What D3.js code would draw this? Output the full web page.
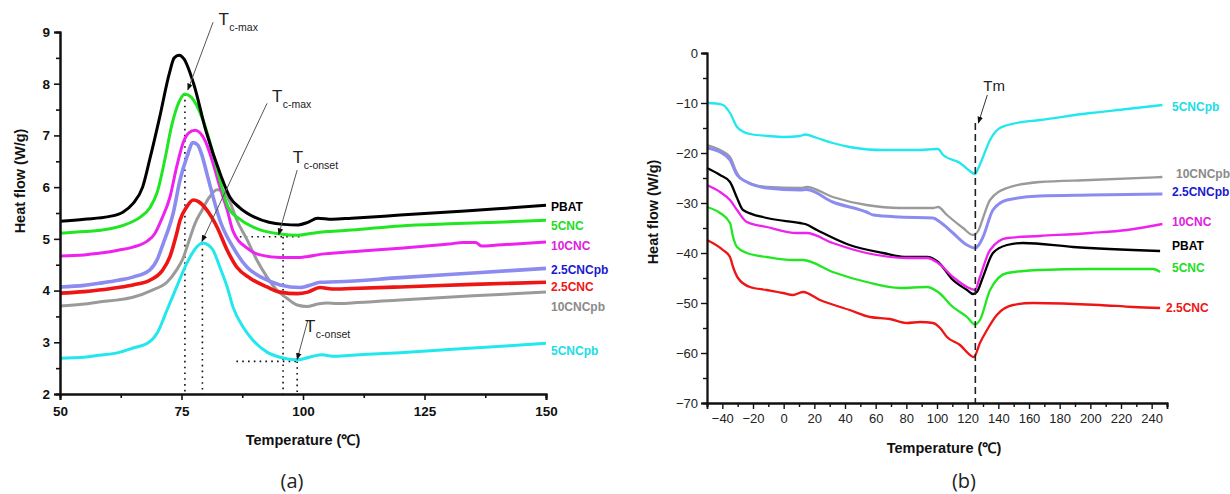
<!DOCTYPE html>
<html>
<head>
<meta charset="utf-8">
<script src="https://cdn.jsdelivr.net/npm/d3@7"></script>
<style>
  body { margin: 0; background: #fff; }
  svg { display: block; font-family: "Liberation Sans", Arial, sans-serif; }
</style>
</head>
<body>
<svg id="chart" width="1230" height="494"></svg>
<script>
// ---- panel (a): crystallization, 50-150 C ----
const seriesNames = ['PBAT', '5CNC', '10CNC', '2.5CNCpb', '2.5CNC', '10CNCpb', '5CNCpb'];
const lineColors = { 'PBAT': '#000000', '5CNC': '#22e622', '10CNC': '#ee22ee', '2.5CNCpb': '#8c8cf0',
                     '2.5CNC': '#ee1515', '10CNCpb': '#9a9a9a', '5CNCpb': '#22e8ee' };
const labelColors = { 'PBAT': '#000000', '5CNC': '#22dd22', '10CNC': '#e020e0', '2.5CNCpb': '#1a1ad0',
                      '2.5CNC': '#ee1515', '10CNCpb': '#8a8a8a', '5CNCpb': '#20dde6' };

const pbatA = [[50,5.34],[55,5.38],[60,5.43],[63,5.52],[65,5.68],[67,6.0],[68.5,6.55],[70.5,7.35],[72.5,8.2],[73.5,8.5],[74.5,8.55],[75.5,8.48],[77.5,8.0],[80,7.1],[83,6.25],[85,5.8],[87,5.6],[90,5.42],[93,5.32],[96,5.28],[99,5.27],[101,5.32],[103,5.4],[106,5.38],[110,5.4],[120,5.46],[130,5.52],[140,5.58],[150,5.65]];
const cnc5A = [[50,5.11],[55,5.14],[60,5.19],[63,5.26],[66.5,5.42],[68.5,5.6],[70,5.9],[71.5,6.5],[73,7.2],[74.5,7.65],[75.7,7.8],[77,7.74],[79.4,7.3],[81.3,6.72],[82.9,6.14],[84.6,5.61],[87,5.38],[91,5.18],[95,5.1],[99,5.07],[102,5.11],[105,5.14],[110,5.17],[120,5.25],[130,5.29],[140,5.32],[150,5.36]];
const cnc10A = [[50,4.67],[55,4.69],[58,4.72],[62,4.78],[65,4.84],[68,4.96],[69.5,5.1],[71,5.4],[72.6,5.8],[74,6.39],[75.3,6.85],[76.5,7.05],[77.8,7.1],[79.8,6.91],[81.3,6.52],[82.9,6.0],[84.4,5.56],[85.6,5.15],[88.5,4.82],[91.2,4.69],[95.3,4.64],[99.4,4.64],[101,4.66],[103.5,4.7],[110,4.75],[120,4.82],[130,4.9],[133,4.93],[135.5,4.93],[136.8,4.86],[140,4.88],[150,4.94]];
const cnc25pbA = [[50,4.07],[55,4.1],[58,4.14],[62,4.2],[65,4.26],[68.5,4.4],[70,4.6],[71.2,4.9],[73.3,5.5],[74.7,6.14],[76.1,6.58],[77.4,6.86],[78.3,6.82],[79.2,6.62],[80.2,6.27],[81.5,5.81],[82.9,5.36],[85.6,4.84],[88.5,4.45],[91.8,4.24],[95.3,4.11],[99.4,4.06],[102,4.12],[103.5,4.16],[107,4.17],[120,4.25],[135,4.34],[150,4.43]];
const cnc25A = [[50,3.95],[55,3.98],[58,4.01],[62,4.06],[65,4.11],[68.5,4.2],[71,4.38],[72.6,4.65],[74,5.1],[74.7,5.36],[76.1,5.62],[77.4,5.75],[78.5,5.72],[80.2,5.56],[82.3,5.23],[84.4,4.78],[86.4,4.45],[89.1,4.24],[92.6,4.07],[95.3,3.97],[98.8,3.94],[101,3.97],[103.5,4.06],[106,4.03],[110,4.04],[120,4.07],[135,4.12],[150,4.16]];
const cnc10pbA = [[50,3.7],[55,3.74],[58,3.78],[62,3.82],[65,3.87],[69,4.01],[72,4.16],[74,4.4],[75.3,4.62],[76.5,4.95],[77.8,5.3],[79.2,5.55],[80.7,5.8],[82.3,5.95],[83.6,5.93],[85,5.7],[86.4,5.36],[88.5,4.98],[90.5,4.59],[92.6,4.26],[94.6,4.01],[96.7,3.85],[98.8,3.72],[100.8,3.69],[103,3.74],[105,3.76],[107,3.75],[110,3.76],[120,3.82],[135,3.9],[150,3.97]];
const cnc5pbA = [[50,2.69],[55,2.71],[58,2.75],[62,2.8],[65,2.89],[68,2.98],[70,3.18],[72,3.62],[74,4.07],[76.1,4.53],[78.2,4.85],[79.4,4.92],[80.5,4.88],[81.5,4.78],[82.9,4.45],[84.4,4.07],[85.6,3.68],[87.7,3.29],[89.7,3.04],[92.6,2.81],[95.3,2.71],[98.8,2.66],[100.5,2.69],[102,2.73],[104,2.76],[106,2.73],[110,2.75],[120,2.8],[135,2.89],[150,2.98]];

// label rows (value on the y scale) at the right end of panel (a)
const labelsA = [['PBAT',5.62],['5CNC',5.25],['10CNC',4.86],['2.5CNCpb',4.40],['2.5CNC',4.07],['10CNCpb',3.68],['5CNCpb',2.84]];

const xTicksA = [50, 75, 100, 125, 150];
const yTicksA = [2, 3, 4, 5, 6, 7, 8, 9];

// ---- panel (b): melting, -50-250 C ----
const cnc5pbB = [[-50,-10],[-44,-10.1],[-39.6,-10.4],[-35,-12],[-30.4,-14.8],[-26,-15.8],[-22,-16.2],[-10,-16.6],[0,-16.8],[10.7,-16.6],[14,-16.3],[21.7,-17],[32,-18],[43,-18.8],[55,-19.3],[64.8,-19.4],[87,-19.4],[100.7,-19.2],[104,-20.4],[115,-22],[121,-23.5],[124.8,-24.2],[127,-23],[130,-20.8],[134.6,-17.4],[141,-15],[152,-14],[167,-13.4],[200,-12],[224,-11.2],[247,-10.4]];
const cnc10pbB = [[-50,-18.4],[-41.5,-19.4],[-35,-20.8],[-30.4,-24],[-26.5,-25.4],[-11,-26.8],[10.7,-27],[15,-26.8],[32,-28.8],[54,-30.4],[76,-31],[97.4,-31],[100.7,-30.8],[106.5,-32.4],[117,-35],[123.5,-36.4],[127,-35.5],[130,-33],[134.6,-29.4],[145.7,-27],[167,-25.8],[200,-25.4],[247,-24.8]];
const cnc25pbB = [[-50,-19],[-41.5,-19.8],[-35,-21.4],[-30.4,-24.4],[-24,-25.8],[-11,-27],[10.7,-27.4],[15,-27.3],[32,-29.8],[54,-31.8],[58.6,-32.4],[76,-32.8],[97.4,-33],[102,-33.8],[110.4,-36],[119.6,-38.4],[124.8,-39],[127,-38.5],[130,-36.8],[136.5,-31.4],[145.7,-29.4],[167,-28.6],[200,-28.4],[247,-28.2]];
const pbatB = [[-50,-23],[-41.5,-24.4],[-35,-25.8],[-30.4,-29],[-26.5,-31.4],[-11,-33],[10.7,-34],[14,-34.2],[21.7,-35.4],[43,-38.4],[64.8,-40],[80.4,-40.8],[93.5,-40.8],[100.7,-41.8],[110.4,-45.4],[119.6,-47.4],[123.5,-48.2],[126,-47.8],[130,-44.8],[136.5,-40],[145.7,-38.4],[156,-38],[188.7,-38.8],[245.5,-39.6]];
const cnc10B = [[-50,-26.4],[-41.5,-27.8],[-35,-29.4],[-30.4,-31.4],[-24,-33.8],[-11,-34.8],[8.7,-36],[15,-36],[32,-38],[54,-40],[80.4,-41],[93.5,-41],[100.7,-42],[110.4,-44.8],[119.6,-46.8],[124.8,-47.4],[128,-44.8],[134.6,-39.4],[145.7,-37],[167,-36.6],[200,-36],[224,-35.4],[247,-34.2]];
const cnc5B = [[-50,-30.8],[-41.5,-32],[-35,-34],[-33,-36.8],[-30.4,-38.8],[-24,-40],[-11,-40.8],[6,-41.4],[12.6,-41.4],[32,-43.8],[54,-45.8],[76,-47],[93.5,-46.8],[100.7,-47.8],[110.4,-50.8],[119.6,-52.8],[124.8,-54.3],[128,-53.4],[134.6,-47.4],[145.7,-44],[167,-43.4],[200,-43.2],[241,-43.2],[245.5,-43.8]];
const cnc25B = [[-50,-37.4],[-39.6,-39.4],[-35,-40.8],[-33,-42.8],[-29.8,-45],[-22,-46.8],[-11,-47.4],[-0.4,-48],[6,-48.4],[12.6,-47.8],[23.7,-49.4],[43,-51.4],[56.3,-52.8],[69.4,-53.2],[80.4,-54],[89,-53.8],[97.4,-54],[102,-55],[106.5,-56.8],[115,-58.4],[121.5,-60.4],[124,-60.8],[128,-58],[132.6,-55.4],[139,-52.4],[149.6,-50.4],[162.6,-50],[206,-50.4],[228,-50.8],[245.5,-51]];

const labelsB = [['5CNCpb',-10.8],['10CNCpb',-24.2],['2.5CNCpb',-27.8],['10CNC',-33.8],['PBAT',-38.6],['5CNC',-43],['2.5CNC',-51]];

const xTicksB = [-40, -20, 0, 20, 40, 60, 80, 100, 120, 140, 160, 180, 200, 220, 240];
const yTicksB = [0, -10, -20, -30, -40, -50, -60, -70];
const tmValue = 125;

const svg = d3.select('#chart');

// arrowhead
svg.append('defs').append('marker')
    .attr('id', 'arrow')
    .attr('viewBox', '0 0 10 10')
    .attr('refX', 9).attr('refY', 5)
    .attr('markerWidth', 7).attr('markerHeight', 7)
    .attr('orient', 'auto-start-reverse')
  .append('path')
    .attr('d', 'M0,1 L10,5 L0,9 Z')
    .attr('fill', '#111');

// ================= Panel (a) =================
const xA = d3.scaleLinear().domain([50, 150]).range([60, 546]);
const yA = d3.scaleLinear().domain([2, 9]).range([394, 32]);
const gA = svg.append('g');

const lineA = d3.line().x(d => xA(d[0])).y(d => yA(d[1])).curve(d3.curveMonotoneX);

// dotted guide lines
const guidesA = [
    { x1: 75.7, y1: 7.8, x2: 75.7, y2: 2 },
    { x1: 79.3, y1: 4.92, x2: 79.3, y2: 2 },
    { x1: 95.9, y1: 5.04, x2: 95.9, y2: 2 },
    { x1: 87, y1: 5.04, x2: 99.5, y2: 5.04 },
    { x1: 98.8, y1: 2.63, x2: 98.8, y2: 2 },
    { x1: 86.3, y1: 2.63, x2: 98.8, y2: 2.63 }
];
gA.selectAll('.guide')
    .data(guidesA)
    .join('line')
    .attr('x1', d => xA(d.x1)).attr('y1', d => yA(d.y1))
    .attr('x2', d => xA(d.x2)).attr('y2', d => yA(d.y2))
    .attr('stroke', '#111')
    .attr('stroke-width', 1.6)
    .attr('stroke-dasharray', '1.6,4.2');

const dataA = [
    ['10CNCpb', cnc10pbA], ['2.5CNCpb', cnc25pbA], ['5CNCpb', cnc5pbA],
    ['2.5CNC', cnc25A], ['10CNC', cnc10A], ['5CNC', cnc5A], ['PBAT', pbatA]
];
gA.selectAll('.curve')
    .data(dataA)
    .join('path')
    .attr('d', d => lineA(d[1]))
    .attr('fill', 'none')
    .attr('stroke', d => lineColors[d[0]])
    .attr('stroke-width', d => d[0] === '2.5CNCpb' ? 3.6 : (d[0] === '2.5CNC' ? 3.6 : 3))
    .attr('stroke-linejoin', 'round');

// axes
gA.append('g').attr('transform', 'translate(0,394)')
    .call(d3.axisBottom(xA).tickValues(xTicksA).tickSize(6).tickPadding(6).tickFormat(d3.format('d')));
gA.append('g').attr('transform', 'translate(0,394)')
    .call(d3.axisBottom(xA).tickValues([62.5, 87.5, 112.5, 137.5]).tickSize(4).tickFormat(''));
gA.append('g').attr('transform', 'translate(60,0)')
    .call(d3.axisLeft(yA).tickValues(yTicksA).tickSize(6).tickPadding(4).tickFormat(d3.format('d')));
gA.append('g').attr('transform', 'translate(60,0)')
    .call(d3.axisLeft(yA).tickValues([2.5, 3.5, 4.5, 5.5, 6.5, 7.5, 8.5]).tickSize(4).tickFormat(''));
gA.selectAll('.domain').attr('stroke', '#111').attr('stroke-width', 2);
gA.selectAll('.tick line').attr('stroke', '#111').attr('stroke-width', 1.6);
gA.selectAll('.tick text').attr('font-size', 13.5).attr('font-weight', 'bold').attr('fill', '#111')
    .attr('font-family', '"Liberation Sans", Arial, sans-serif');

// series labels
gA.selectAll('.lab')
    .data(labelsA)
    .join('text')
    .attr('x', 551)
    .attr('y', d => yA(d[1]))
    .attr('dy', '0.35em')
    .attr('font-size', 12)
    .attr('font-weight', 'bold')
    .attr('fill', d => labelColors[d[0]])
    .text(d => d[0]);

// T annotations with arrows
const notesA = [
    { tx: 82.6, ty: 9.13, sub: 'c-max', fx: 81.5, fy: 9.19, toX: 76.3, toY: 7.88 },
    { tx: 93.6, ty: 7.64, sub: 'c-max', fx: 92.6, fy: 7.62, toX: 79.2, toY: 4.95 },
    { tx: 97.9, ty: 6.47, sub: 'c-onset', fx: 98.8, fy: 6.33, toX: 95, toY: 5.08 },
    { tx: 100.4, ty: 3.2, sub: 'c-onset', fx: 101, fy: 3.43, toX: 98.8, toY: 2.67 }
];
gA.selectAll('.ann')
    .data(notesA)
    .join('line')
    .attr('x1', d => xA(d.fx)).attr('y1', d => yA(d.fy))
    .attr('x2', d => xA(d.toX)).attr('y2', d => yA(d.toY))
    .attr('stroke', '#555')
    .attr('stroke-width', 1)
    .attr('marker-end', 'url(#arrow)');
const annText = gA.selectAll('.anntext')
    .data(notesA)
    .join('text')
    .attr('x', d => xA(d.tx))
    .attr('y', d => yA(d.ty))
    .attr('font-size', 17)
    .attr('fill', '#222');
annText.append('tspan').text('T');
annText.append('tspan').attr('font-size', 10.5).attr('dy', 6).attr('dx', 0.5).text(d => d.sub);

// axis titles
gA.append('text')
    .attr('transform', `translate(25,${(32 + 394) / 2 - 32}) rotate(-90)`)
    .attr('text-anchor', 'middle')
    .attr('font-size', 14.5).attr('font-weight', 'bold').attr('fill', '#111')
    .text('Heat flow (W/g)');
gA.append('text')
    .attr('x', 303).attr('y', 445)
    .attr('text-anchor', 'middle')
    .attr('font-size', 14.5).attr('font-weight', 'bold').attr('fill', '#111')
    .text('Temperature (℃)');
gA.append('text')
    .attr('x', 292).attr('y', 488)
    .attr('text-anchor', 'middle')
    .attr('font-size', 20).attr('fill', '#222')
    .attr('font-family', '"Open Sans", "Noto Sans", sans-serif')
    .text('(a)');

// ================= Panel (b) =================
const xB = d3.scaleLinear().domain([-50, 250]).range([707, 1167]);
const yB = d3.scaleLinear().domain([-70, 0]).range([403, 53]);
const gB = svg.append('g');

const lineB = d3.line().x(d => xB(d[0])).y(d => yB(d[1])).curve(d3.curveMonotoneX);

const dataB = [
    ['5CNCpb', cnc5pbB], ['10CNCpb', cnc10pbB], ['2.5CNCpb', cnc25pbB],
    ['2.5CNC', cnc25B], ['5CNC', cnc5B], ['PBAT', pbatB], ['10CNC', cnc10B]
];
gB.selectAll('.curve')
    .data(dataB)
    .join('path')
    .attr('d', d => lineB(d[1]))
    .attr('fill', 'none')
    .attr('stroke', d => lineColors[d[0]])
    .attr('stroke-width', d => d[0] === '2.5CNCpb' ? 3 : 2.3)
    .attr('stroke-linejoin', 'round');

// Tm marker
gB.append('line')
    .attr('x1', xB(tmValue)).attr('x2', xB(tmValue))
    .attr('y1', yB(-14)).attr('y2', yB(-70))
    .attr('stroke', '#222').attr('stroke-width', 1.6)
    .attr('stroke-dasharray', '7,4');
gB.append('line')
    .attr('x1', xB(tmValue) + 12).attr('y1', yB(-8.4))
    .attr('x2', xB(tmValue) + 3).attr('y2', yB(-14))
    .attr('stroke', '#333').attr('stroke-width', 1)
    .attr('marker-end', 'url(#arrow)');
gB.append('text')
    .attr('x', xB(tmValue) + 8).attr('y', yB(-7.6))
    .attr('font-size', 15).attr('fill', '#222')
    .text('Tm');

// axes
gB.append('g').attr('transform', 'translate(0,403)')
    .call(d3.axisBottom(xB).tickValues(xTicksB).tickSize(6).tickPadding(5).tickFormat(d3.format('d')));
gB.append('g').attr('transform', 'translate(0,403)')
    .call(d3.axisBottom(xB).tickValues(d3.range(-50, 251, 20)).tickSize(4).tickFormat(''));
gB.append('g').attr('transform', 'translate(707,0)')
    .call(d3.axisLeft(yB).tickValues(yTicksB).tickSize(6).tickPadding(3).tickFormat(d3.format('d')));
gB.append('g').attr('transform', 'translate(707,0)')
    .call(d3.axisLeft(yB).tickValues(d3.range(-65, 0, 10)).tickSize(4).tickFormat(''));
gB.selectAll('.domain').attr('stroke', '#111').attr('stroke-width', 1.8);
gB.selectAll('.tick line').attr('stroke', '#111').attr('stroke-width', 1.4);
gB.selectAll('.tick text').attr('font-size', 13).attr('fill', '#222')
    .attr('font-family', '"Liberation Sans", Arial, sans-serif');

gB.selectAll('.lab')
    .data(labelsB)
    .join('text')
    .attr('x', d => d[0] === '2.5CNC' ? 1166 : (d[0] === '10CNCpb' ? 1176 : 1172))
    .attr('y', d => yB(d[1]))
    .attr('dy', '0.35em')
    .attr('font-size', 12)
    .attr('font-weight', 'bold')
    .attr('fill', d => labelColors[d[0]])
    .text(d => d[0]);

gB.append('text')
    .attr('transform', 'translate(658,212) rotate(-90)')
    .attr('text-anchor', 'middle')
    .attr('font-size', 14.5).attr('font-weight', 'bold').attr('fill', '#111')
    .text('Heat flow (W/g)');
gB.append('text')
    .attr('x', 944).attr('y', 453)
    .attr('text-anchor', 'middle')
    .attr('font-size', 14.5).attr('font-weight', 'bold').attr('fill', '#111')
    .text('Temperature (℃)');
gB.append('text')
    .attr('x', 964).attr('y', 488)
    .attr('text-anchor', 'middle')
    .attr('font-size', 20).attr('fill', '#222')
    .attr('font-family', '"Open Sans", "Noto Sans", sans-serif')
    .text('(b)');
</script>
</body>
</html>
